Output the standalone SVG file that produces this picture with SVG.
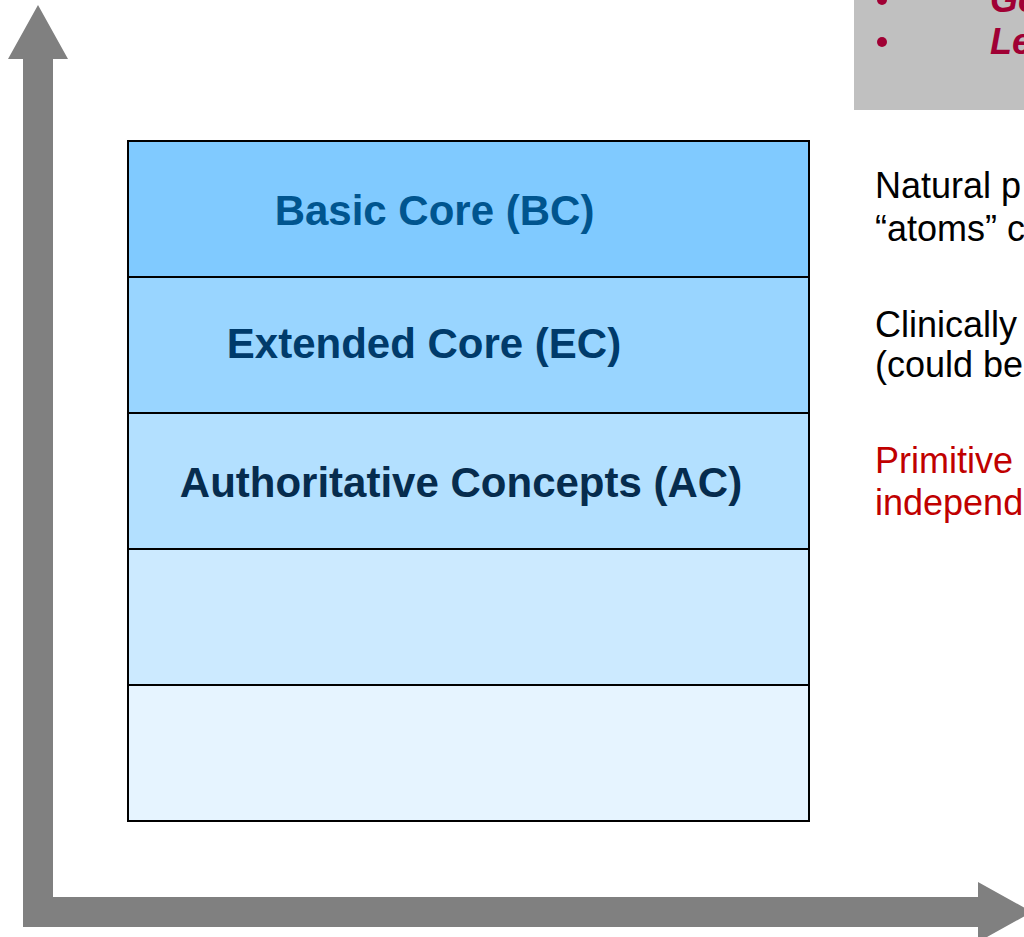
<svg xmlns="http://www.w3.org/2000/svg" width="1024" height="937" viewBox="0 0 1024 937">
<style>
.layer{stroke:#000;stroke-width:2}
.lbl{font-family:"Liberation Sans",Arial,sans-serif;font-weight:bold;font-size:42px;text-anchor:middle}
.side{font-family:"Liberation Sans",Arial,sans-serif;font-size:36px}
.note{font-family:"Liberation Sans",Arial,sans-serif;font-size:36px;font-weight:bold;font-style:italic;fill:#A00034}
</style>
<rect width="1024" height="937" fill="#fff"/>
<g id="note-box">
<rect x="854" y="-2" width="172" height="112" fill="#C0C0C0"/>
<circle cx="882" cy="0" r="5" fill="#A00034"/>
<circle cx="882" cy="42" r="5" fill="#A00034"/>
<text class="note" x="990" y="12">Ge</text>
<text class="note" x="990" y="54">Le</text>
</g>
<g id="axes">
<polygon fill="#808080" points="38,5 68,59 53,59 53,897 978,897 978,882 1032,912 978,942 978,927 23,927 23,59 8,59"/>
</g>
<g id="layer-bc">
<rect class="layer" x="128" y="141" width="681" height="136" fill="#80CAFF"/>
<text class="lbl" x="434.5" y="225" fill="#00558F">Basic Core (BC)</text>
</g>
<g id="layer-ec">
<rect class="layer" x="128" y="277" width="681" height="136" fill="#99D5FF"/>
<text class="lbl" x="424" y="358" fill="#003B6B">Extended Core (EC)</text>
</g>
<g id="layer-ac">
<rect class="layer" x="128" y="413" width="681" height="136" fill="#B3E0FF"/>
<text class="lbl" x="461" y="497" fill="#062C4E">Authoritative Concepts (AC)</text>
</g>
<g id="layer-4">
<rect class="layer" x="128" y="549" width="681" height="136" fill="#CCEAFF"/>
</g>
<g id="layer-5">
<rect class="layer" x="128" y="685" width="681" height="136" fill="#E6F4FF"/>
</g>
<g id="side-text">
<text class="side" x="875" y="198" fill="#000">Natural p</text>
<text class="side" x="875" y="241" fill="#000">“atoms” c</text>
<text class="side" x="875" y="337" fill="#000">Clinically</text>
<text class="side" x="875" y="377" fill="#000">(could be</text>
<text class="side" x="875" y="473" fill="#C00000">Primitive</text>
<text class="side" x="875" y="515" fill="#C00000">independ</text>
</g>
</svg>
